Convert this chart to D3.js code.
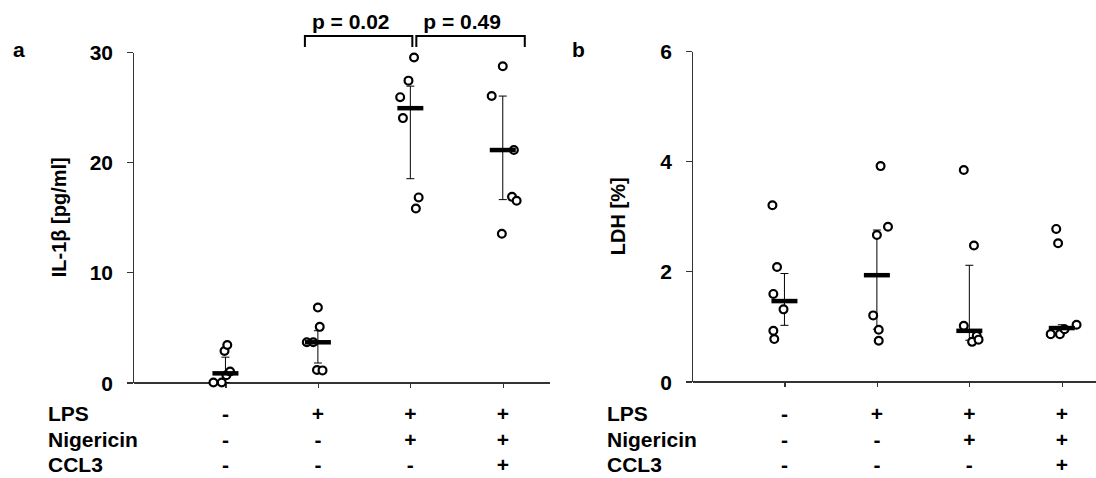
<!DOCTYPE html>
<html>
<head>
<meta charset="utf-8">
<title>IL-1b and LDH</title>
<script src="https://cdn.jsdelivr.net/npm/d3@7"></script>
<style>
body { margin: 0; background: #fff; }
svg text { font-family: "Liberation Sans", Arial, sans-serif; font-weight: bold; fill: #000; }
.axis path, .axis line { stroke: #333; stroke-width: 1.3px; shape-rendering: crispEdges; }
.axis text { font-size: 21px; }
</style>
</head>
<body>
<script>
// treatment rows under both panels
var rowNames = ["LPS", "Nigericin", "CCL3"];
var lps = ["-", "+", "+", "+"];
var nigericin = ["-", "-", "+", "+"];
var ccl3 = ["-", "-", "-", "+"];

// panel a: IL-1b [pg/ml], one list of replicate values per group
var il1bPoints = [
    [0, 0, 0.66, 1.0, 2.86, 3.4],
    [6.8, 5.05, 3.65, 3.65, 1.13, 1.1],
    [29.5, 27.4, 25.9, 24.0, 16.8, 15.8],
    [28.7, 26.0, 21.1, 16.85, 16.5, 13.5]
];
// horizontal scatter of the dots, in group widths
var il1bJitter = [
    [-0.13, -0.04, 0.01, 0.05, -0.01, 0.02],
    [0, 0.02, -0.12, -0.05, -0.01, 0.05],
    [0.04, -0.02, -0.11, -0.08, 0.09, 0.06],
    [0, -0.12, 0.12, 0.1, 0.15, -0.01]
];
var il1bCenter = [0.83, 3.65, 24.9, 21.1];
var il1bLow = [0, 1.77, 18.5, 16.6];
var il1bHigh = [2.3, 4.7, 26.9, 26.0];
var il1bTicks = [0, 10, 20, 30];

// p values over panel a: [from group, to group, label]
var pValues = [[2, 3, "p = 0.02"], [3, 4, "p = 0.49"]];

// panel b: LDH [%]
var ldhPoints = [
    [3.2, 2.08, 1.59, 1.31, 0.92, 0.77],
    [3.91, 2.81, 2.66, 1.2, 0.94, 0.74],
    [3.84, 2.47, 1.01, 0.83, 0.72, 0.76],
    [2.77, 2.51, 1.03, 0.86, 0.86, 0.95]
];
var ldhJitter = [
    [-0.13, -0.08, -0.12, -0.01, -0.12, -0.11],
    [0.04, 0.12, 0, -0.04, 0.02, 0.02],
    [-0.06, 0.05, -0.06, 0.08, 0.03, 0.1],
    [-0.06, -0.04, 0.16, -0.12, -0.02, 0.03]
];
var ldhCenter = [1.46, 1.93, 0.92, 0.97];
var ldhLow = [1.02, 0.95, 0.75, 0.89];
var ldhHigh = [1.96, 2.75, 2.11, 1.03];
var ldhTicks = [0, 2, 4, 6];

var svg = d3.select("body").append("svg")
    .attr("width", 1096)
    .attr("height", 478);

function drawPanel(o) {
    var g = svg.append("g");
    var x = d3.scaleLinear().domain([0, 4.5]).range([o.left, o.left + 416]);
    var y = d3.scaleLinear().domain(o.domain).range([o.bottom, o.top]);

    // x axis
    g.append("g")
        .attr("class", "axis")
        .attr("transform", "translate(0," + o.bottom + ")")
        .call(d3.axisBottom(x).tickValues([1, 2, 3, 4]).tickFormat("").tickSize(5).tickSizeOuter(0));

    // y axis
    g.append("g")
        .attr("class", "axis")
        .attr("transform", "translate(" + o.left + ",0)")
        .call(d3.axisLeft(y).tickValues(o.ticks).tickFormat(d3.format("d"))
            .tickSize(6).tickSizeOuter(0).tickPadding(14))
        .selectAll("text").attr("dy", "0.36em");

    // axis title
    g.append("text")
        .attr("transform", "translate(" + (o.left - 67) + "," + ((o.top + o.bottom) / 2) + ") rotate(-90)")
        .attr("text-anchor", "middle")
        .style("font-size", "20px")
        .text(o.title);

    // panel letter
    g.append("text")
        .attr("x", o.left - 120)
        .attr("y", 57)
        .style("font-size", "21px")
        .text(o.letter);

    // error bars
    o.center.forEach(function(c, i) {
        var cx = x(i + 1);
        g.append("line").attr("x1", cx).attr("x2", cx)
            .attr("y1", y(o.low[i])).attr("y2", y(o.high[i]))
            .style("stroke", "#000").style("stroke-width", 1);
        [o.low[i], o.high[i]].forEach(function(v) {
            g.append("line").attr("x1", cx - 4).attr("x2", cx + 4)
                .attr("y1", y(v)).attr("y2", y(v))
                .style("stroke", "#000").style("stroke-width", 1);
        });
    });

    // dots
    o.points.forEach(function(grp, i) {
        g.selectAll(null)
            .data(grp)
            .enter().append("circle")
            .attr("cx", function(d, j) { return x(i + 1 + o.jitter[i][j]); })
            .attr("cy", function(d) { return y(d); })
            .attr("r", 3.9)
            .style("fill", "#fff")
            .style("stroke", "#000")
            .style("stroke-width", 2.2);
    });

    // group centre bars
    g.selectAll(".mean")
        .data(o.center)
        .enter().append("line")
        .attr("class", "mean")
        .attr("x1", function(d, i) { return x(i + 1) - 13; })
        .attr("x2", function(d, i) { return x(i + 1) + 13; })
        .attr("y1", function(d) { return y(d); })
        .attr("y2", function(d) { return y(d); })
        .style("stroke", "#000")
        .style("stroke-width", 4.5);

    // treatment table
    var rows = [lps, nigericin, ccl3];
    rows.forEach(function(signs, r) {
        var ry = 421 + r * 25.5;
        g.append("text")
            .attr("x", o.left - 85)
            .attr("y", ry)
            .style("font-size", "21px")
            .text(rowNames[r]);
        g.selectAll(null)
            .data(signs)
            .enter().append("text")
            .attr("x", function(d, i) { return x(i + 1); })
            .attr("y", ry)
            .attr("text-anchor", "middle")
            .style("font-size", "21px")
            .text(function(d) { return d; });
    });

    return {x: x, y: y, g: g};
}

var a = drawPanel({
    left: 133, top: 52, bottom: 382.5, domain: [0, 30], ticks: il1bTicks,
    title: "IL-1\u03b2 [pg/ml]", letter: "a",
    points: il1bPoints, jitter: il1bJitter, center: il1bCenter, low: il1bLow, high: il1bHigh
});

drawPanel({
    left: 692, top: 51, bottom: 381.5, domain: [0, 6], ticks: ldhTicks,
    title: "LDH [%]", letter: "b",
    points: ldhPoints, jitter: ldhJitter, center: ldhCenter, low: ldhLow, high: ldhHigh
});

// significance brackets
pValues.forEach(function(p, k) {
    var x1 = k === 0 ? a.x(p[0]) - 13 : a.x(p[0]) + 6;
    var x2 = k === 0 ? a.x(p[1]) + 2 : a.x(p[1]) + 22;
    a.g.append("path")
        .attr("d", "M" + x1 + ",47V36H" + x2 + "V47")
        .style("fill", "none")
        .style("stroke", "#000")
        .style("stroke-width", 2);
    a.g.append("text")
        .attr("x", x1 + 7)
        .attr("y", 29)
        .style("font-size", "21px")
        .text(p[2]);
});
</script>
</body>
</html>
